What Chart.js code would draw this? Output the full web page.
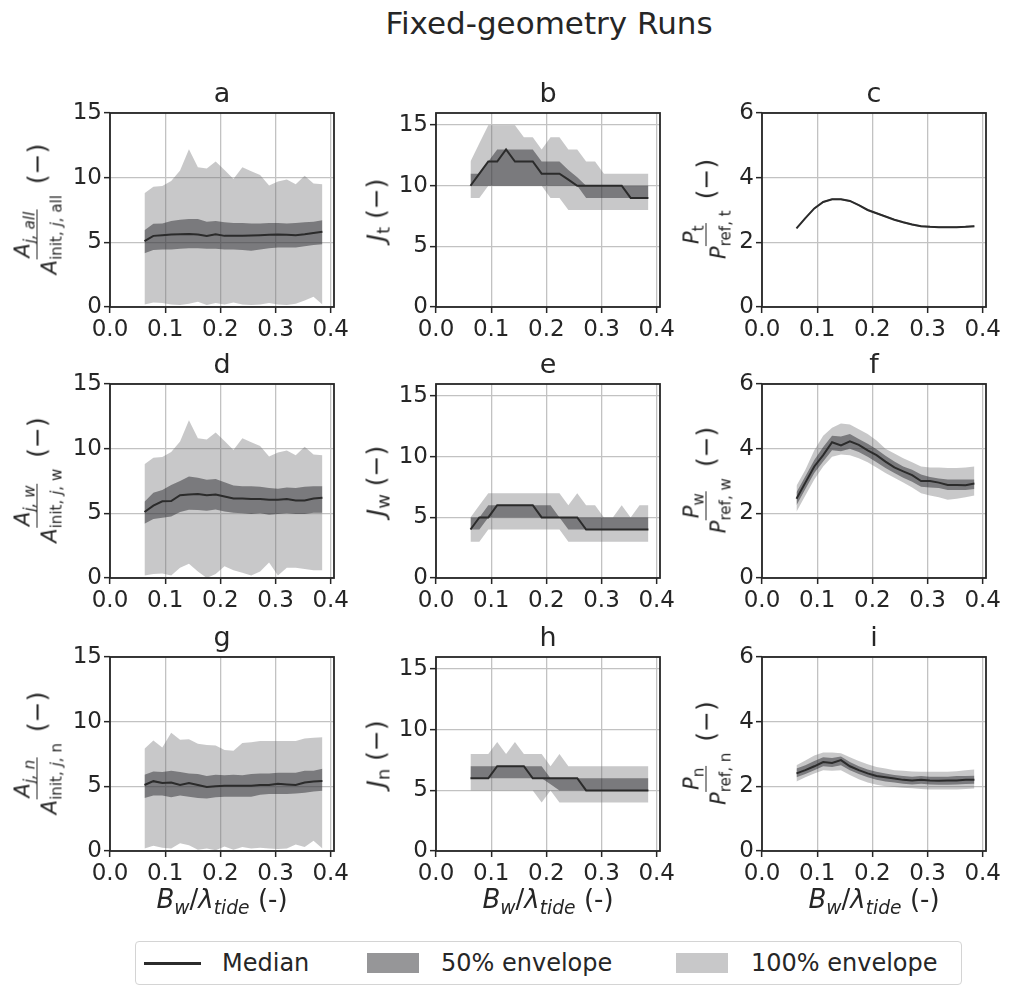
<!DOCTYPE html>
<html>
<head>
<meta charset="utf-8">
<script src="https://cdn.jsdelivr.net/npm/chart.js@4.4.1/dist/chart.umd.min.js"></script>
<style>
    body { margin: 0; background: #fff; }
    #fig { position: relative; width: 1013px; height: 986px; overflow: hidden;
           font-family: "DejaVu Sans", sans-serif; color: #262626; }
    .cell { position: absolute; }
    .txt { position: absolute; white-space: nowrap; }
    .letter { font-size: 27px; line-height: 27px; transform: translateX(-50%); }
    .xlab { font-size: 26px; line-height: 26px; transform: translateX(-50%); }
    .ylab { font-size: 25px; transform: translate(-50%, -50%) rotate(-90deg);
            display: flex; align-items: center; gap: 9px; }
    .frac { display: inline-flex; flex-direction: column; align-items: center; font-size: 21px; line-height: 22px; }
    .frac .num { border-bottom: 1.5px solid #262626; padding: 0 2px 1px; }
    .frac .den { padding: 1px 2px 0; }
    sub { font-size: 0.72em; vertical-align: baseline; position: relative; top: 0.3em; }
    #legend { position: absolute; left: 135px; top: 941px; width: 827px; height: 44px;
              border: 1px solid #d4d4d4; border-radius: 4px; box-sizing: border-box; font-size: 24px; }
    #legend .item { position: absolute; top: 0; line-height: 42px; }
    #legend .sw { position: absolute; }
</style>
</head>
<body>
<div id="fig">
    <div class="txt" style="left:549px; top:8px; font-size:31px; line-height:31px; transform:translateX(-50%);">Fixed-geometry Runs</div>
    <div id="legend">
        <div class="sw" style="left:8px; top:20px; width:57px; height:3px; background:#2b2b2b;"></div>
        <div class="item" style="left:86px;">Median</div>
        <div class="sw" style="left:231px; top:11px; width:52px; height:20px; background:rgba(40,40,44,0.49);"></div>
        <div class="item" style="left:305px;">50% envelope</div>
        <div class="sw" style="left:540px; top:11px; width:52px; height:20px; background:rgba(110,110,114,0.38);"></div>
        <div class="item" style="left:615px;">100% envelope</div>
    </div>
</div>
<script>
// x positions (B_w / lambda_tide) shared by every panel
const xVals = [0.0625, 0.0786, 0.0948, 0.1109, 0.127, 0.1431, 0.1593, 0.1754, 0.1915, 0.2076, 0.2238,
               0.2399, 0.256, 0.2721, 0.2883, 0.3044, 0.3205, 0.3366, 0.3528, 0.3689, 0.385];
const xTicks = [0, 0.1, 0.2, 0.3, 0.4];
const areaTicks = [0, 5, 10, 15];
const countTicks = [0, 5, 10, 15];
const powerTicks = [0, 2, 4, 6];

// a: A_j,all
const aMed = [5.1, 5.5, 5.55, 5.6, 5.62, 5.65, 5.6, 5.5, 5.62, 5.5, 5.5, 5.5, 5.52, 5.55, 5.58, 5.6, 5.58, 5.55, 5.62, 5.72, 5.82];
const aP75 = [5.93, 6.44, 6.45, 6.65, 6.75, 6.8, 6.8, 6.6, 6.65, 6.55, 6.5, 6.5, 6.45, 6.45, 6.5, 6.5, 6.45, 6.5, 6.55, 6.6, 6.7];
const aP25 = [4.15, 4.4, 4.45, 4.45, 4.5, 4.55, 4.55, 4.5, 4.5, 4.45, 4.45, 4.4, 4.35, 4.45, 4.55, 4.6, 4.6, 4.6, 4.7, 4.8, 4.85];
const aMax = [8.8, 9.3, 9.35, 9.75, 10.55, 12.2, 10.8, 10.7, 11.25, 10.6, 9.9, 10.8, 10.5, 10.2, 9.4, 9.7, 9.85, 9.5, 10.15, 9.55, 9.5];
const aMin = [0.2, 0.35, 0.3, 0.2, 0.15, 0.25, 0.4, 0.15, 0.3, 0.2, 0.35, 0.2, 0.15, 0.2, 0.3, 0.2, 0.15, 0.25, 0.5, 0.8, 0.2];

// b: J_t
const bMed = [10, 11, 12, 12, 13, 12, 12, 12, 11, 11, 11, 10.5, 10, 10, 10, 10, 10, 10, 9, 9, 9];
const bP75 = [11, 11, 12, 13, 13, 13, 13, 13, 12, 12, 12, 11.3, 10.7, 10, 10, 10, 10, 10, 10, 10, 10];
const bP25 = [10, 10, 10, 10, 10, 10, 10, 10, 10, 10, 10, 10, 10, 9, 9, 9, 9, 9, 9, 9, 9];
const bMax = [12, 13.5, 15, 15, 15, 15, 14, 14, 13, 14, 14, 13, 13, 12, 12, 11, 11, 11, 11, 11, 11];
const bMin = [9, 9, 10, 10, 10, 10, 10, 10, 10, 9, 9, 8, 8, 8, 8, 8, 8, 8, 8, 8, 8];

// c: P_t
const cMed = [2.43, 2.75, 3.05, 3.25, 3.33, 3.33, 3.28, 3.15, 3.0, 2.9, 2.8, 2.7, 2.62, 2.55, 2.5, 2.48, 2.47, 2.47, 2.47, 2.48, 2.5];
const cP75 = [2.45, 2.77, 3.07, 3.27, 3.35, 3.35, 3.3, 3.17, 3.02, 2.92, 2.82, 2.72, 2.64, 2.57, 2.52, 2.5, 2.49, 2.49, 2.49, 2.5, 2.52];
const cP25 = [2.41, 2.73, 3.03, 3.23, 3.31, 3.31, 3.26, 3.13, 2.98, 2.88, 2.78, 2.68, 2.6, 2.53, 2.48, 2.46, 2.45, 2.45, 2.45, 2.46, 2.48];
const cMax = [2.46, 2.78, 3.08, 3.28, 3.36, 3.36, 3.31, 3.18, 3.03, 2.93, 2.83, 2.73, 2.65, 2.58, 2.53, 2.51, 2.5, 2.5, 2.5, 2.51, 2.53];
const cMin = [2.4, 2.72, 3.02, 3.22, 3.3, 3.3, 3.25, 3.12, 2.97, 2.87, 2.77, 2.67, 2.59, 2.52, 2.47, 2.45, 2.44, 2.44, 2.44, 2.45, 2.47];

// d: A_j,w
const dMed = [5.1, 5.6, 5.93, 5.95, 6.4, 6.45, 6.5, 6.4, 6.45, 6.3, 6.15, 6.15, 6.1, 6.1, 6.05, 6.05, 6.1, 6.0, 6.0, 6.15, 6.2];
const dP75 = [5.9, 6.6, 6.8, 7.2, 7.5, 7.85, 7.75, 7.6, 7.65, 7.4, 7.15, 7.1, 7.1, 7.05, 6.95, 6.9, 7.0, 6.95, 7.05, 7.1, 7.1];
const dP25 = [4.2, 4.56, 4.65, 4.75, 5.1, 5.28, 5.25, 5.2, 5.3, 5.15, 5.05, 5.0, 4.95, 5.0, 4.9, 4.95, 5.0, 4.95, 4.95, 5.05, 5.05];
const dMax = [8.8, 9.3, 9.35, 9.75, 10.55, 12.2, 10.8, 10.7, 11.25, 10.6, 9.9, 10.8, 10.5, 10.2, 9.4, 9.7, 9.85, 9.5, 10.15, 9.55, 9.5];
const dMin = [0.2, 0.3, 0.35, 0.2, 0.8, 1.1, 0.5, 0.0, 0.3, 0.9, 0.6, 0.4, 0.2, 0.5, 1.2, 0.2, 0.8, 0.8, 0.7, 0.6, 0.6];

// e: J_w
const eMed = [4, 5, 5, 6, 6, 6, 6, 6, 5, 5, 5, 5, 5, 4, 4, 4, 4, 4, 4, 4, 4];
const eP75 = [5, 5, 6, 6, 6, 6, 6, 6, 6, 6, 5, 5, 5, 5, 5, 5, 5, 5, 5, 5, 5];
const eP25 = [4, 4, 5, 5, 5, 5, 5, 5, 5, 5, 5, 4, 4, 4, 4, 4, 4, 4, 4, 4, 4];
const eMax = [5, 6, 7, 7, 7, 7, 7, 7, 7, 7, 7, 6, 7, 6, 6, 5, 5, 6, 5, 6, 6];
const eMin = [3, 3, 4, 4, 4, 4, 4, 4, 4, 4, 4, 3, 3, 3, 3, 3, 3, 3, 3, 3, 3];

// f: P_w
const fMed = [2.45, 2.95, 3.45, 3.8, 4.2, 4.1, 4.23, 4.12, 3.95, 3.8, 3.6, 3.42, 3.3, 3.18, 3.0, 3.0, 2.95, 2.88, 2.88, 2.87, 2.92];
const fP75 = [2.65, 3.15, 3.65, 4.05, 4.4, 4.38, 4.45, 4.3, 4.15, 3.98, 3.78, 3.6, 3.45, 3.35, 3.2, 3.12, 3.08, 3.05, 3.05, 3.05, 3.05];
const fP25 = [2.25, 2.75, 3.25, 3.6, 3.95, 3.92, 4.0, 3.9, 3.75, 3.58, 3.4, 3.25, 3.1, 2.98, 2.82, 2.8, 2.78, 2.72, 2.72, 2.72, 2.75];
const fMax = [2.85, 3.35, 3.95, 4.4, 4.65, 4.78, 4.75, 4.6, 4.45, 4.25, 4.0, 3.85, 3.7, 3.58, 3.45, 3.42, 3.42, 3.4, 3.4, 3.42, 3.45];
const fMin = [2.05, 2.55, 3.05, 3.45, 3.75, 3.82, 3.8, 3.7, 3.58, 3.42, 3.25, 3.1, 2.95, 2.8, 2.62, 2.55, 2.5, 2.42, 2.45, 2.5, 2.55];

// g: A_j,n
const gMed = [5.1, 5.4, 5.25, 5.3, 5.1, 5.25, 5.1, 4.95, 5.0, 5.05, 5.05, 5.05, 5.05, 5.1, 5.1, 5.2, 5.15, 5.1, 5.3, 5.38, 5.42];
const gP75 = [5.9, 6.15, 6.1, 6.2, 6.1, 6.0, 5.95, 5.8, 5.9, 5.85, 5.9, 5.85, 5.95, 6.0, 6.0, 6.05, 6.05, 6.05, 6.2, 6.2, 6.35];
const gP25 = [4.1, 4.3, 4.3, 4.15, 4.3, 4.2, 4.1, 4.05, 4.15, 4.2, 4.2, 4.2, 4.2, 4.35, 4.4, 4.4, 4.4, 4.45, 4.5, 4.6, 4.65];
const gMax = [7.9, 8.55, 8.0, 9.15, 8.6, 8.65, 8.3, 8.2, 8.15, 7.8, 7.75, 8.35, 8.4, 8.5, 8.5, 8.5, 8.5, 8.5, 8.7, 8.75, 8.8];
const gMin = [0.2, 0.4, 0.25, 0.2, 0.6, 0.45, 0.1, 0.2, 0.05, 0.35, 0.1, 0.3, 0.2, 0.25, 0.2, 0.15, 0.2, 0.5, 0.3, 0.8, 0.2];

// h: J_n
const hMed = [6, 6, 6, 7, 7, 7, 7, 6, 6, 6, 6, 6, 6, 5, 5, 5, 5, 5, 5, 5, 5];
const hP75 = [7, 7, 7, 7, 7, 7, 7, 7, 7, 6, 6, 6, 6, 6, 6, 6, 6, 6, 6, 6, 6];
const hP25 = [6, 6, 6, 6, 6, 6, 6, 6, 6, 5.5, 5, 5, 5, 5, 5, 5, 5, 5, 5, 5, 5];
const hMax = [8, 8, 8, 9, 8, 9, 8, 8, 8, 7, 8, 7, 7, 7, 7, 7, 7, 7, 7, 7, 7];
const hMin = [5, 5, 5, 5, 5, 5, 5, 5, 4, 5, 4, 4, 4, 4, 4, 4, 4, 4, 4, 4, 4];

// i: P_n
const iMed = [2.4, 2.5, 2.62, 2.75, 2.72, 2.81, 2.62, 2.5, 2.4, 2.32, 2.28, 2.24, 2.2, 2.18, 2.2, 2.18, 2.17, 2.18, 2.18, 2.2, 2.2];
const iP75 = [2.55, 2.65, 2.78, 2.9, 2.88, 2.92, 2.75, 2.62, 2.52, 2.45, 2.4, 2.35, 2.32, 2.3, 2.32, 2.3, 2.3, 2.3, 2.32, 2.32, 2.33];
const iP25 = [2.28, 2.38, 2.5, 2.62, 2.6, 2.65, 2.5, 2.38, 2.28, 2.2, 2.15, 2.12, 2.08, 2.06, 2.08, 2.06, 2.05, 2.05, 2.06, 2.07, 2.08];
const iMax = [2.65, 2.8, 2.95, 3.05, 3.05, 3.02, 2.9, 2.78, 2.68, 2.6, 2.55, 2.5, 2.48, 2.46, 2.45, 2.45, 2.45, 2.45, 2.47, 2.5, 2.52];
const iMin = [2.15, 2.28, 2.4, 2.5, 2.48, 2.5, 2.35, 2.22, 2.12, 2.05, 2.0, 1.98, 1.96, 1.94, 1.92, 1.9, 1.9, 1.9, 1.9, 1.92, 1.93];

(function() {
    'use strict';

    const INK = '#262626';
    const DARK = 'rgba(40,40,44,0.49)';
    const LIGHT = 'rgba(110,110,114,0.38)';
    const NONE = 'rgba(0,0,0,0)';

    // plot-area geometry in figure pixels
    const colLeft = [110, 436, 762];
    const rowTop = [113, 384, 657];
    const plotW = 224, plotH = 194;
    const padL = 60, padT = 40, padR = 30, padB = 44;
    const ylabX = [37, 376, 706];

    const fracA = (s) => `<span class="frac"><span class="num"><i>A</i><sub><i>j, ${s}</i></sub></span>` +
        `<span class="den"><i>A</i><sub>init, <i>j</i>, ${s}</sub></span></span><span>(&minus;)</span>`;
    const labJ = (s) => `<span><i>J</i><sub>${s}</sub> (&minus;)</span>`;
    const fracP = (s) => `<span class="frac"><span class="num"><i>P</i><sub>${s}</sub></span>` +
        `<span class="den"><i>P</i><sub>ref, ${s}</sub></span></span><span>(&minus;)</span>`;

    const panels = [
        { letter: 'a', med: aMed, p25: aP25, p75: aP75, min: aMin, max: aMax, ticks: areaTicks, yMax: 15, label: fracA('all') },
        { letter: 'b', med: bMed, p25: bP25, p75: bP75, min: bMin, max: bMax, ticks: countTicks, yMax: 16, label: labJ('t') },
        { letter: 'c', med: cMed, p25: cP25, p75: cP75, min: cMin, max: cMax, ticks: powerTicks, yMax: 6, label: fracP('t') },
        { letter: 'd', med: dMed, p25: dP25, p75: dP75, min: dMin, max: dMax, ticks: areaTicks, yMax: 15, label: fracA('w') },
        { letter: 'e', med: eMed, p25: eP25, p75: eP75, min: eMin, max: eMax, ticks: countTicks, yMax: 16, label: labJ('w') },
        { letter: 'f', med: fMed, p25: fP25, p75: fP75, min: fMin, max: fMax, ticks: powerTicks, yMax: 6, label: fracP('w') },
        { letter: 'g', med: gMed, p25: gP25, p75: gP75, min: gMin, max: gMax, ticks: areaTicks, yMax: 15, label: fracA('n') },
        { letter: 'h', med: hMed, p25: hP25, p75: hP75, min: hMin, max: hMax, ticks: countTicks, yMax: 16, label: labJ('n') },
        { letter: 'i', med: iMed, p25: iP25, p75: iP75, min: iMin, max: iMax, ticks: powerTicks, yMax: 6, label: fracP('n') }
    ];

    const fig = document.getElementById('fig');

    function addText(cls, html, left, top) {
        const el = document.createElement('div');
        el.className = 'txt ' + cls;
        el.innerHTML = html;
        el.style.left = left + 'px';
        el.style.top = top + 'px';
        fig.appendChild(el);
    }

    // box around the plot area, like matplotlib spines
    const frame = {
        id: 'frame',
        afterDraw(chart) {
            const { ctx, chartArea: a } = chart;
            ctx.save();
            ctx.strokeStyle = INK;
            ctx.lineWidth = 1.8;
            ctx.strokeRect(a.left, a.top, a.right - a.left, a.bottom - a.top);
            ctx.restore();
        }
    };

    const pts = (ys) => xVals.map((x, i) => ({ x: x, y: ys[i] }));
    const tickFont = { family: 'DejaVu Sans', size: 23 };
    const gridStyle = { color: '#c2c2c2', lineWidth: 1.3, tickLength: 6, tickColor: INK, tickWidth: 1.5 };

    panels.forEach((p, k) => {
        const row = Math.floor(k / 3), col = k % 3;
        const cell = document.createElement('div');
        cell.className = 'cell';
        cell.style.left = (colLeft[col] - padL) + 'px';
        cell.style.top = (rowTop[row] - padT) + 'px';
        const canvas = document.createElement('canvas');
        canvas.width = plotW + padL + padR;
        canvas.height = plotH + padT + padB;
        cell.appendChild(canvas);
        fig.appendChild(cell);

        const cx = colLeft[col] + plotW / 2;
        addText('letter', p.letter, cx, rowTop[row] - 34);
        addText('ylab', p.label, ylabX[col], rowTop[row] + plotH / 2);
        if (row === 2) {
            addText('xlab', '<i>B</i><sub><i>w</i></sub>/<i>&lambda;</i><sub><i>tide</i></sub> (-)', cx, 886);
        }

        new Chart(canvas.getContext('2d'), {
            type: 'line',
            data: {
                datasets: [
                    { data: pts(p.med), borderColor: '#2b2b2b', borderWidth: 2, fill: false },
                    { data: pts(p.p75), borderColor: NONE, borderWidth: 0, backgroundColor: DARK, fill: '+1' },
                    { data: pts(p.p25), borderColor: NONE, borderWidth: 0, fill: false },
                    { data: pts(p.max), borderColor: NONE, borderWidth: 0, backgroundColor: LIGHT, fill: '+1' },
                    { data: pts(p.min), borderColor: NONE, borderWidth: 0, fill: false }
                ]
            },
            options: {
                responsive: false,
                animation: false,
                elements: { point: { radius: 0 }, line: { tension: 0 } },
                layout: { padding: { top: padT, right: padR, left: 0, bottom: 0 } },
                plugins: { legend: { display: false }, tooltip: { enabled: false } },
                scales: {
                    x: {
                        type: 'linear', min: 0, max: 0.406,
                        afterBuildTicks: (s) => { s.ticks = xTicks.map(v => ({ value: v })); },
                        afterFit: (s) => { s.height = padB; },
                        grid: gridStyle,
                        border: { display: false },
                        ticks: { color: INK, font: tickFont, padding: 3, maxRotation: 0, callback: (v) => v.toFixed(1) }
                    },
                    y: {
                        min: 0, max: p.yMax,
                        afterBuildTicks: (s) => { s.ticks = p.ticks.map(v => ({ value: v })); },
                        afterFit: (s) => { s.width = padL; },
                        grid: gridStyle,
                        border: { display: false },
                        ticks: { color: INK, font: tickFont, padding: 2, callback: (v) => String(v) }
                    }
                }
            },
            plugins: [frame]
        });
    });
})();
</script>
</body>
</html>
